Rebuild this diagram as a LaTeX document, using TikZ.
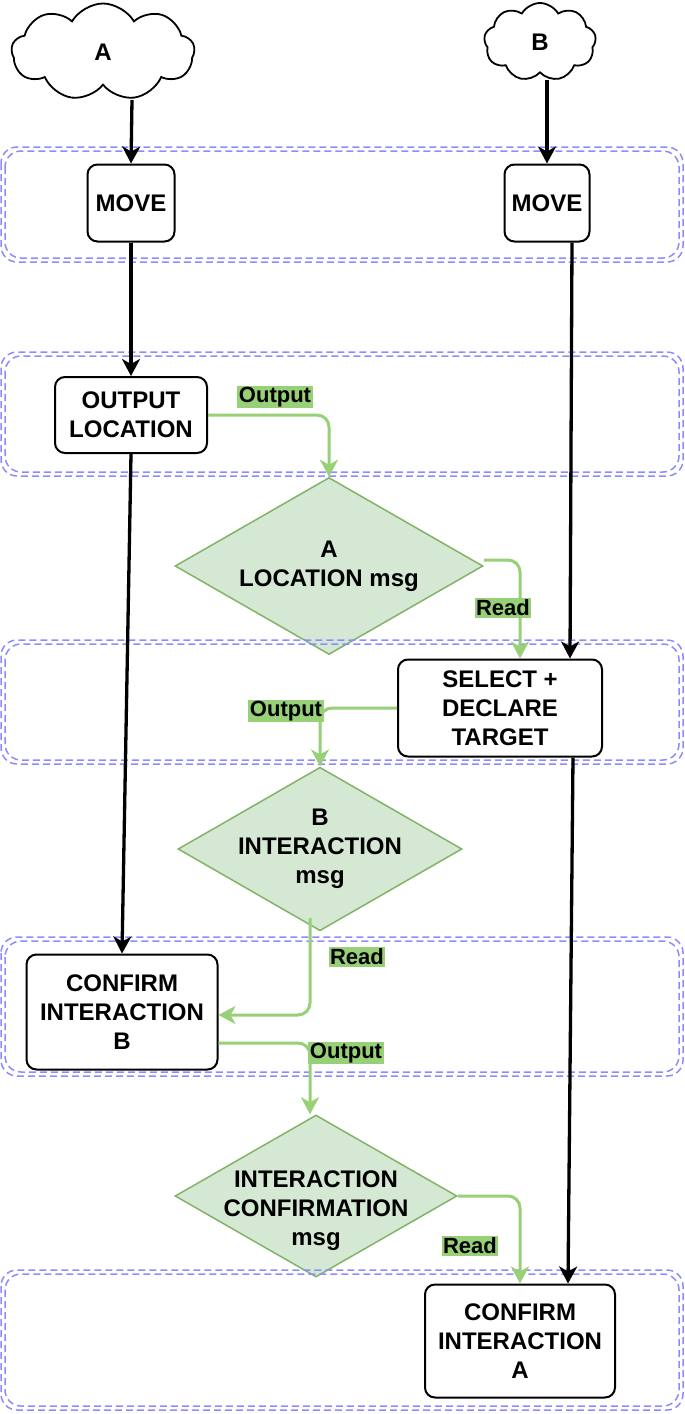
\documentclass[tikz,border=0pt]{standalone}
\usepackage{fontspec}
\setmainfont{Liberation Sans}
\usetikzlibrary{shapes.geometric,shapes.symbols,arrows.meta,calc}
\definecolor{grn}{HTML}{97D077}
\definecolor{dfill}{HTML}{D5E8D4}
\definecolor{dline}{HTML}{82B366}
\definecolor{lane}{HTML}{8C8CFF}
\begin{document}
\begin{tikzpicture}[x=1pt,y=-1pt,
  txt/.style={font=\fontsize{24}{29}\selectfont\bfseries, align=center},
  box/.style={txt, draw=black, line width=2pt, rounded corners=10pt, fill=white, inner sep=0pt},
  cld/.style={txt, draw=black, line width=1.8pt, cloud, cloud puffs=9, cloud puff arc=120, fill=white, inner sep=0pt},
  msg/.style={txt, diamond, draw=dline, line width=1.5pt, fill=dfill, inner sep=-20pt},
  lanebox/.style={draw=lane, line width=1.5pt, dash pattern=on 7pt off 4pt, rounded corners=16pt},
  flow/.style={draw=black, line width=3.3pt, -{Stealth[length=17pt,width=18pt,inset=5pt]}},
  gflow/.style={draw=grn, line width=3pt, rounded corners=12pt, -{Stealth[length=17pt,width=18pt,inset=5pt]}},
  lbl/.style={font=\fontsize{22}{24}\selectfont\bfseries, fill=grn, inner sep=1.5pt}
]
\useasboundingbox (0,0) rectangle (685,1414);
% clouds
\node[cld, minimum width=183pt, minimum height=97pt] (cldA) at (103,52) {A};
\node[cld, minimum width=112pt, minimum height=78pt] (cldB) at (540,42) {B};
% message diamonds
\node[msg, minimum width=308pt, minimum height=177pt] (dA) at (329,566) {A\\LOCATION msg};
\node[msg, minimum width=284pt, minimum height=162pt] (dB) at (320,849) {B\\INTERACTION\\msg};
\node[msg, minimum width=282pt, minimum height=162pt] (dC) at (316,1196) {};
\node[txt] (dCt) at (316,1211) {INTERACTION\\CONFIRMATION\\msg};
% lanes
\foreach \ya/\yb in {147/262, 352/476, 640/764, 937/1076, 1270/1410}{
  \draw[lanebox] (1,\ya) rectangle (683,\yb);
  \draw[lanebox] (5,\ya+4) rectangle (679,\yb-4);
}
% boxes
\node[box, minimum width=87pt, minimum height=77pt] (mvA) at (131,203) {MOVE};
\node[box, minimum width=85pt, minimum height=77pt] (mvB) at (547,203) {MOVE};
\node[box, minimum width=152pt, minimum height=76pt] (ol) at (131,415) {OUTPUT\\LOCATION};
\node[box, minimum width=204pt, minimum height=97pt] (sel) at (500,708) {SELECT +\\DECLARE\\TARGET};
\node[box, minimum width=191pt, minimum height=115pt] (cB) at (122,1012) {CONFIRM\\INTERACTION\\B};
\node[box, minimum width=190pt, minimum height=113pt] (cA) at (520,1341) {CONFIRM\\INTERACTION\\A};
% black flows
\coordinate (aStart) at (132,100);
\coordinate (bStart) at (547,80);
\draw[flow] (aStart) -- (mvA.north);
\draw[flow] (bStart) -- (mvB.north);
\draw[flow] (mvA.south) -- (ol.north);
\draw[flow] (ol.south) -- (cB.north);
\draw[flow] ([xshift=25pt]mvB.south) -- ([xshift=70pt]sel.north);
\draw[flow] ([xshift=73pt]sel.south) -- ([xshift=48pt]cA.north);
% green flows
\draw[gflow] (ol.east) -| (dA.north);
\draw[gflow] ([yshift=6pt]dA.east) -| ([xshift=20pt]sel.north);
\draw[gflow] (sel.west) -| (dB.north);
\coordinate (dBout) at (310,918);
\draw[gflow] (dBout) |- ([yshift=-3pt]cB.east);
\draw[gflow] ([yshift=-31pt]cB.east) -| ([xshift=-6pt]dC.north);
\draw[gflow] (dC.east) -| (cA.north);
% labels
\node[lbl] (l1) at (275,397) {Output};
\node[lbl] (l2) at (503,608) {Read};
\node[lbl] (l3) at (286,711) {Output};
\node[lbl] (l4) at (357,957) {Read};
\node[lbl] (l5) at (346,1053) {Output};
\node[lbl] (l6) at (470,1246) {Read};
\end{tikzpicture}
\end{document}
